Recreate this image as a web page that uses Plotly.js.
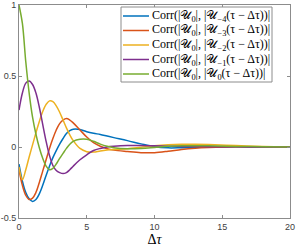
<!DOCTYPE html>
<html><head><meta charset="utf-8">
<script src="https://cdn.plot.ly/plotly-3.0.1.min.js"></script>
<style>html,body{margin:0;padding:0;background:#fff}#chart{width:296px;height:249px}</style>
</head><body><div id="chart"></div>
<script>
// Lag values Δτ shared by all series
const tau = [0,0.25,0.5,0.75,1,1.25,1.5,1.75,2,2.25,2.5,2.75,3,3.25,3.5,3.75,4,4.5,5,5.5,6,6.5,7,8,9,10,11,12,13,14,16,18,20];
// Series names (legend labels)
const seriesNames = [
  "Corr(|𝒰<sub>0</sub>|, |𝒰<sub>−4</sub>(τ − Δτ))|",
  "Corr(|𝒰<sub>0</sub>|, |𝒰<sub>−3</sub>(τ − Δτ))|",
  "Corr(|𝒰<sub>0</sub>|, |𝒰<sub>−2</sub>(τ − Δτ))|",
  "Corr(|𝒰<sub>0</sub>|, |𝒰<sub>−1</sub>(τ − Δτ))|",
  "Corr(|𝒰<sub>0</sub>|, |𝒰<sub>0</sub>(τ − Δτ))|"
];
const corrM4 = [-0.12,-0.24,-0.32,-0.365,-0.383,-0.37,-0.33,-0.27,-0.2,-0.135,-0.075,-0.025,0.02,0.06,0.095,0.115,0.125,0.123,0.108,0.097,0.088,0.077,0.066,0.045,0.022,0.002,-0.006,-0.005,-0.003,-0.001,0.001,0,0];
const corrM3 = [-0.16,-0.27,-0.34,-0.37,-0.36,-0.32,-0.25,-0.17,-0.09,-0.01,0.06,0.12,0.165,0.19,0.2,0.19,0.17,0.12,0.07,0.03,0.005,-0.012,-0.022,-0.032,-0.04,-0.04,-0.03,-0.017,-0.008,-0.003,0.002,0.001,0];
const corrM2 = [-0.14,-0.23,-0.16,-0.07,0.015,0.1,0.18,0.25,0.3,0.325,0.32,0.29,0.245,0.19,0.135,0.085,0.045,-0.01,-0.033,-0.036,-0.028,-0.022,-0.018,-0.012,-0.002,0.008,0.015,0.019,0.02,0.018,0.01,0.004,0.001];
const corrM1 = [0.26,0.38,0.45,0.465,0.44,0.38,0.28,0.16,0.04,-0.06,-0.13,-0.165,-0.18,-0.187,-0.18,-0.16,-0.135,-0.09,-0.055,-0.025,-0.01,0,0.005,0.01,0.01,0.008,0.006,0.004,0.003,0.002,0.001,0,0];
const corr0  = [1,0.87,0.6,0.38,0.21,0.09,-0.005,-0.08,-0.135,-0.16,-0.15,-0.12,-0.08,-0.045,-0.01,0.02,0.04,0.055,0.055,0.04,0.02,0.005,-0.005,-0.012,-0.01,-0.003,0.005,0.009,0.009,0.008,0.004,0.002,0];
const xTicks = [0,5,10,15,20];
const xTickText = ["0","5","10","15","20"];
const yTicks = [-0.5,0,0.5,1];
const yTickText = ["-0.5","0","0.5","1"];

const colors = ["#0072BD","#D95319","#EDB120","#7E2F8E","#77AC30"];
const series = [corrM4,corrM3,corrM2,corrM1,corr0];

const traces = series.map((ys,i)=>({
  x: tau, y: ys, type:"scatter", mode:"lines", name: seriesNames[i],
  line:{color:colors[i], width:1.5, shape:"spline", smoothing:1},
  showlegend:false, hoverinfo:"skip"
}));

// Legend drawn as layout decoration (box, line samples, labels)
const L = 19, R = 6, T = 5, B = 31, W = 296, H = 249;
const pw = W-L-R, ph = H-T-B;
const px2x = p => (p-L)/pw;
const py2y = p => (H-B-p)/ph;
const shapes = [{type:"rect", xref:"paper", yref:"paper",
  x0:px2x(121), x1:px2x(272), y0:py2y(82), y1:py2y(7),
  fillcolor:"#ffffff", line:{color:"#8c8c8c", width:1}, layer:"above"}];
const annotations = [];
const rowY = [16,30.5,45,59.5,74];
seriesNames.forEach((n,i)=>{
  shapes.push({type:"line", xref:"paper", yref:"paper",
    x0:px2x(123), x1:px2x(149), y0:py2y(rowY[i]), y1:py2y(rowY[i]),
    line:{color:colors[i], width:1.5}, layer:"above"});
  annotations.push({xref:"paper", yref:"paper", x:px2x(149.5), y:py2y(rowY[i]),
    xanchor:"left", yanchor:"middle", text:n, showarrow:false,
    font:{family:"Liberation Serif", size:12, color:"#000"}});
});

const axisCommon = {showgrid:false, zeroline:false, showline:true, mirror:"ticks",
  linecolor:"#8c8c8c", linewidth:1, ticks:"inside", ticklen:3, tickcolor:"#8c8c8c",
  tickfont:{family:"Liberation Sans", size:9, color:"#404040"}, fixedrange:true};

const layout = {
  width:W, height:H, margin:{l:L, r:R, t:T, b:B},
  paper_bgcolor:"#fff", plot_bgcolor:"#fff", showlegend:false,
  xaxis: Object.assign({}, axisCommon, {range:[0,20], tickmode:"array", tickvals:xTicks, ticktext:xTickText,
    title:{text:"Δ<i>τ</i>", font:{family:"Liberation Serif", size:14, color:"#000"}, standoff:2}}),
  yaxis: Object.assign({}, axisCommon, {range:[-0.5,1], tickmode:"array", tickvals:yTicks, ticktext:yTickText}),
  shapes: shapes, annotations: annotations
};
Plotly.newPlot("chart", traces, layout, {staticPlot:true, displayModeBar:false});
</script></body></html>
